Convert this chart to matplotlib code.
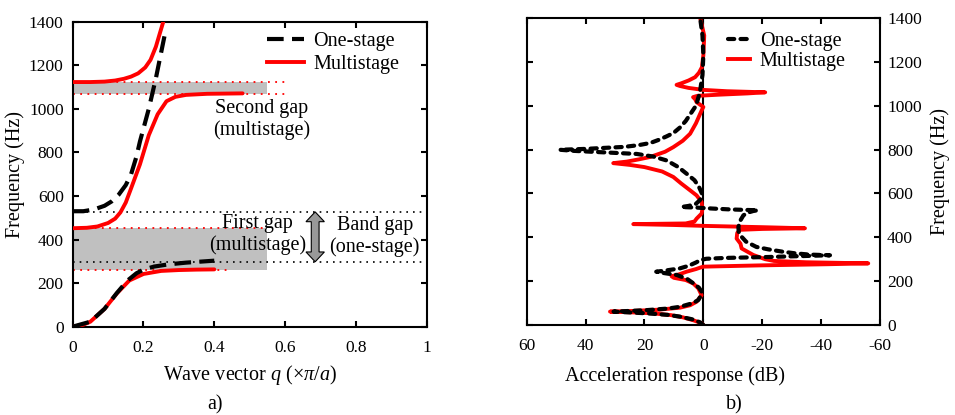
import matplotlib
matplotlib.use("Agg")
import matplotlib.pyplot as plt
from matplotlib.patches import Polygon, Rectangle

plt.rcParams.update({
    "font.family": "Liberation Serif",
    "mathtext.fontset": "custom",
    "mathtext.rm": "Liberation Serif",
    "mathtext.it": "Liberation Serif:italic",
    "axes.unicode_minus": False,
    "axes.linewidth": 1.5,
    "xtick.direction": "in",
    "ytick.direction": "in",
    "xtick.major.size": 4.5,
    "ytick.major.size": 4.5,
    "xtick.major.width": 1.5,
    "ytick.major.width": 1.5,
    "xtick.major.pad": 9.5,
    "ytick.major.pad": 6.5,
    "xtick.labelsize": 12.5,
    "ytick.labelsize": 12.5,
})

# ---- (a) dispersion curves: q in units of pi/a, frequency in Hz ----
ONE_Q1 = [0, 0.05, 0.09, 0.125, 0.155, 0.18, 0.2, 0.23, 0.27, 0.32, 0.4]
ONE_F1 = [0, 23, 82, 155, 212, 245, 262, 276, 286, 294, 303]
ONE_Q2 = [0, 0.03, 0.06, 0.09, 0.11, 0.13, 0.15, 0.165, 0.18, 0.19, 0.205, 0.215,
          0.225, 0.235, 0.245, 0.262]
ONE_F2 = [530, 530, 538, 555, 575, 606, 650, 700, 780, 850, 940, 1000,
          1070, 1140, 1220, 1355]

MULTI_Q1 = [0, 0.03, 0.05, 0.09, 0.125, 0.16, 0.2, 0.25, 0.3, 0.35, 0.4]
MULTI_F1 = [0, 9, 23, 82, 153, 212, 242, 256, 260, 262, 263]
MULTI_Q2 = [0, 0.04, 0.07, 0.1, 0.12, 0.135, 0.15, 0.165, 0.19, 0.215, 0.24, 0.265,
            0.29, 0.32, 0.38, 0.48]
MULTI_F2 = [452, 454, 460, 476, 496, 525, 570, 635, 745, 879, 975, 1035,
            1055, 1064, 1069, 1071]
MULTI_Q3 = [0, 0.05, 0.09, 0.12, 0.145, 0.165, 0.185, 0.205, 0.22, 0.235, 0.245, 0.256]
MULTI_F3 = [1123, 1123, 1125, 1130, 1138, 1148, 1163, 1190, 1225, 1285, 1340, 1400]

ONE_GAP = (298, 527)
MULTI_GAP1 = (260, 451)
MULTI_GAP2 = (1070, 1123)

# ---- (b) acceleration response (dB) vs frequency (Hz) ----
ONE_FREQ = [0, 12, 25, 38, 46, 53, 58, 61, 64, 68, 75, 83, 100, 114, 135, 152, 170,
            190, 210, 228, 236, 243, 248, 258, 270, 285, 296, 302, 306, 310, 314,
            318, 321, 327, 334, 345, 356, 380, 402, 425, 447, 475, 500, 512, 520,
            523, 527, 531, 535, 538, 543, 553, 570, 600, 630, 660, 690, 720, 750,
            768, 780, 788, 794, 799, 803, 808, 812, 820, 830, 845, 860, 875, 900,
            930, 960, 1000, 1060, 1140, 1230, 1320, 1400]
ONE_DB = [0, 1.1, 3.5, 7.9, 12, 19, 26, 30.5, 25, 19, 12, 7.9, 3.5, 1.7, 0.8, 0.6, 1.5,
          3.4, 5.5, 9, 13, 16, 13, 8, 5, 2.5, 1, -1, -8, -22, -33,
          -43, -36, -31, -27, -22, -18, -14.5, -13, -12, -11.9, -12.5, -13.6, -15, -17,
          -18.5, -9, -3, 2, 7.5, 5, 2.5, 1.1, 0.5, 1.5, 3, 5.7, 8.5, 12.4,
          17, 22.6, 35, 44, 48.7, 40, 33, 27, 22, 18, 15, 12.5, 10.2, 8,
          6, 4.5, 2.5, 1.2, 0.3, 0, 0.3, 1.1]

MULTI_FREQ = [0, 8, 22, 35, 45, 53, 58, 61, 64, 70, 79, 90, 106, 136, 167, 190, 205,
              215, 222, 232, 243, 255, 262, 266, 272, 277, 281, 286, 292, 300, 319,
              349, 371, 394, 420, 434, 438, 441, 446, 452, 456, 460, 463, 472, 485,
              508, 530, 561, 591, 614, 645, 675, 700, 720, 730, 738, 745, 755, 766,
              790, 811, 840, 872, 920, 978, 994, 1016, 1030, 1039, 1045, 1050, 1056,
              1061, 1066, 1072, 1081, 1090, 1095, 1102, 1115, 1130, 1150, 1175, 1230,
              1320, 1400]
MULTI_DB = [0, 0.6, 3.5, 7, 11, 17, 25, 31.7, 24, 15, 7.9, 4.5, 2.3, 0.6, 1.7, 3.5, 6,
            10, 10.8, 8, 5.7, 2.5, 1, 0, -20, -42, -56, -35, -24, -21, -17,
            -13, -12.6, -11.3, -11.5, -12.5, -20, -34.5, -20, 0, 10, 23.8, 6, 3, 2.3,
            0.6, 0.3, 0.6, 2.3, 4.5, 7.5, 10.2, 14, 20, 25, 30.6, 26, 22, 18.1,
            13, 10.2, 7, 4.5, 2.5, 0.6, 0, 2.3, 2.8, 3.5, 2, -5, -15,
            -21, -8, 0, 5, 8, 9.1, 7.5, 5, 2.8, 1.5, 0.5, 0,
            -0.3, 1.1]

RED = "#ff0000"
GRAY = "#c0c0c0"
FS = 14.5

fig = plt.figure(figsize=(9.55, 4.15), dpi=100)
ax1 = fig.add_axes([0.0761, 0.2128, 0.3707, 0.7349])
ax2 = fig.add_axes([0.5515, 0.2169, 0.3700, 0.7398])

# ---------- panel a ----------
for lo, hi in (MULTI_GAP1, MULTI_GAP2):
    ax1.add_patch(Rectangle((0, lo), 0.55, hi - lo, facecolor=GRAY, edgecolor="none", zorder=1))
ax1.hlines(MULTI_GAP1[0], 0, 0.44, colors=RED, linestyles=(0, (1, 3)), lw=1.3, zorder=2)
ax1.hlines(MULTI_GAP1[1], 0, 0.55, colors=RED, linestyles=(0, (1, 3)), lw=1.3, zorder=2)
ax1.hlines(MULTI_GAP2, 0, 0.6, colors=RED, linestyles=(0, (1, 3)), lw=1.3, zorder=2)
ax1.hlines(ONE_GAP, 0, 1, colors="k", linestyles=(0, (1, 3)), lw=1.2, zorder=2)

for q, f in ((MULTI_Q1, MULTI_F1), (MULTI_Q2, MULTI_F2), (MULTI_Q3, MULTI_F3)):
    ax1.plot(q, f, color=RED, lw=2.8, solid_capstyle="round", zorder=3)
for q, f in ((ONE_Q1, ONE_F1), (ONE_Q2, ONE_F2)):
    ax1.plot(q, f, color="k", lw=3, ls=(0, (4, 2)), zorder=4)

# double-headed arrow marking the one-stage gap
aq, sw, hw, hl = 0.685, 0.011, 0.026, 45
lo, hi = ONE_GAP
ax1.add_patch(Polygon([(aq, hi), (aq + hw, hi - hl), (aq + sw, hi - hl), (aq + sw, lo + hl),
                       (aq + hw, lo + hl), (aq, lo), (aq - hw, lo + hl), (aq - sw, lo + hl),
                       (aq - sw, hi - hl), (aq - hw, hi - hl)],
                      closed=True, facecolor="#999999", edgecolor="k", lw=0.8, zorder=5))

ax1.text(0.534, 950, "Second gap\n(multistage)", ha="center", va="center",
         fontsize=FS, linespacing=1.15)
ax1.text(0.522, 424, "First gap\n(multistage)", ha="center", va="center",
         fontsize=FS, linespacing=1.15)
ax1.text(0.853, 415, "Band gap\n(one-stage)", ha="center", va="center",
         fontsize=FS, linespacing=1.15)

ax1.plot([], [], color="k", lw=3, ls=(0, (4, 2)), label="One-stage")
ax1.plot([], [], color=RED, lw=2.8, label="Multistage")
ax1.legend(loc="upper left", bbox_to_anchor=(0.52, 0.998), frameon=False, fontsize=FS,
           borderpad=0, handlelength=1.85, handletextpad=0.45, labelspacing=0.15)

ax1.set_xlim(0, 1)
ax1.set_ylim(0, 1400)
ax1.set_xticks([0, 0.2, 0.4, 0.6, 0.8, 1])
ax1.set_xticklabels(["0", "0.2", "0.4", "0.6", "0.8", "1"])
ax1.set_yticks(range(0, 1401, 200))
ax1.tick_params(top=True, right=True)
ax1.set_xlabel(r"Wave vector $q$ (×$\pi$/$a$)", fontsize=FS, labelpad=5)
ax1.set_ylabel("Frequency (Hz)", fontsize=FS, labelpad=3)

# ---------- panel b ----------
ax2.axvline(0, color="k", lw=1.5, zorder=1)
ax2.plot(MULTI_DB, MULTI_FREQ, color=RED, lw=2.8, zorder=2, label="Multistage")
ax2.plot(ONE_DB, ONE_FREQ, color="k", lw=3, ls=(0, (1.5, 1.5)), dash_capstyle="round",
         zorder=3, label="One-stage")
h, l = ax2.get_legend_handles_labels()
ax2.legend(h[::-1], l[::-1], loc="upper left", bbox_to_anchor=(0.54, 0.988), frameon=False,
           fontsize=FS, borderpad=0, handlelength=1.1, handletextpad=0.5, labelspacing=0.05)

ax2.set_xlim(60, -60)
ax2.set_ylim(0, 1400)
ax2.set_xticks([60, 40, 20, 0, -20, -40, -60])
ax2.set_yticks(range(0, 1401, 200))
ax2.tick_params(top=True, left=True, right=True, labelleft=False, labelright=True)
ax2.tick_params(axis="y", pad=5)
ax2.yaxis.set_label_position("right")
ax2.set_ylabel("Frequency (Hz)", fontsize=FS, labelpad=6)
ax2.set_xlabel("Acceleration response (dB)", fontsize=FS)
ax2.xaxis.set_label_coords(0.42, -0.135)

fig.text(0.2251, 0.024, "a)", ha="center", va="center", fontsize=FS)
fig.text(0.7686, 0.024, "b)", ha="center", va="center", fontsize=FS)

fig.savefig("out.png", dpi=100)
